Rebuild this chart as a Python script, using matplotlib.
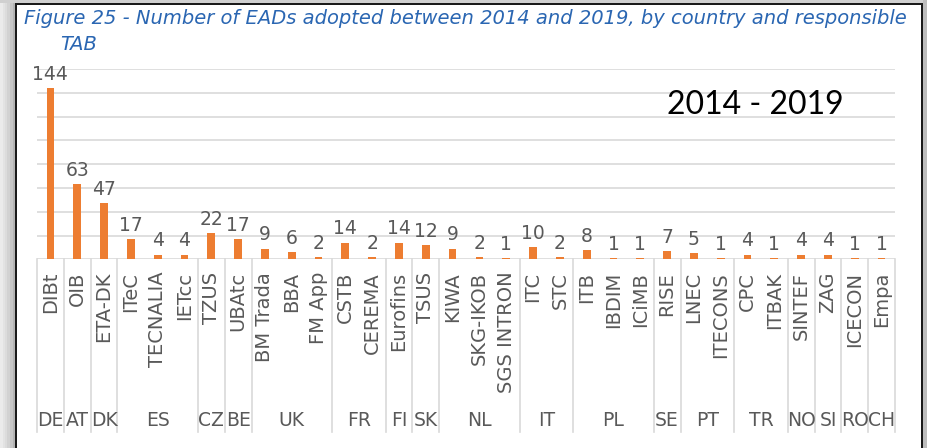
import matplotlib
matplotlib.use('Agg')
import matplotlib.pyplot as plt
from matplotlib.patches import Rectangle
from matplotlib.transforms import blended_transform_factory
import numpy as np

# data
tabs = ['DIBt', 'OIB', 'ETA-DK', 'ITeC', 'TECNALIA', 'IETcc', 'TZUS', 'UBAtc',
        'BM Trada', 'BBA', 'FM App', 'CSTB', 'CEREMA', 'Eurofins', 'TSUS', 'KIWA',
        'SKG-IKOB', 'SGS INTRON', 'ITC', 'STC', 'ITB', 'IBDIM', 'ICiMB', 'RISE',
        'LNEC', 'ITECONS', 'CPC', 'ITBAK', 'SINTEF', 'ZAG', 'ICECON', 'Empa']
eads = [144, 63, 47, 17, 4, 4, 22, 17, 9, 6, 2, 14, 2, 14, 12, 9,
        2, 1, 10, 2, 8, 1, 1, 7, 5, 1, 4, 1, 4, 4, 1, 1]
countries = ['DE', 'AT', 'DK', 'ES', 'CZ', 'BE', 'UK', 'FR', 'FI', 'SK',
             'NL', 'IT', 'PL', 'SE', 'PT', 'TR', 'NO', 'SI', 'RO', 'CH']
group_size = [1, 1, 1, 3, 1, 1, 3, 2, 1, 1, 3, 2, 3, 1, 2, 2, 1, 1, 1, 1]
y_ticks = [0, 20, 40, 60, 80, 100, 120, 140, 160]

W, H = 927, 448
ORANGE = '#ED7D31'
GREY_TXT = '#595959'
GRID = '#D9D9D9'
BLUE = '#2A66B2'

fig = plt.figure(figsize=(W / 100, H / 100), dpi=100)
fig.patch.set_facecolor('white')


def px(x0, y0, w, h):
    # pixel box (from top-left) -> figure fraction rectangle
    return (x0 / W, 1 - (y0 + h) / H, w / W, h / H)


def box(x0, y0, w, h, c):
    fx, fy, fw, fh = px(x0, y0, w, h)
    fig.add_artist(Rectangle((fx, fy), fw, fh, transform=fig.transFigure, color=c, lw=0))


# screenshot frame
for i, c in enumerate(['#EBEBEB', '#E3E3E3', '#DCDCDC', '#D2D2D2', '#C6C6C6', '#B4B4B4']):
    box(i * 2.5, 0, 2.6, H, c)
box(0, 0, W, 3.3, '#D0D0D0')
box(923, 0, 4, H, '#BDBDBD')
box(15, 3.3, 2, H, '#1A1A1A')
box(15, 3.3, 908, 1.3, '#1A1A1A')
box(921, 3.3, 2, H, '#1A1A1A')

# plot area
left, right, top, base = 37, 895, 69, 259.3
ax = fig.add_axes([left / W, 1 - base / H, (right - left) / W, (base - top) / H])
ax.set_facecolor('none')
x = np.arange(len(tabs))
ax.bar(x, eads, width=0.29, color=ORANGE, zorder=3)
ax.set_xlim(-0.5, len(tabs) - 0.5)
ax.set_ylim(0, 160)
for sp in ax.spines.values():
    sp.set_visible(False)
ax.set_yticks(y_ticks)
ax.yaxis.grid(True, color=GRID, lw=1.2, zorder=0)
ax.tick_params(axis='y', left=False, labelleft=False)
ax.set_xticks(x)
ax.set_xticklabels(tabs, rotation=90, fontsize=14, color=GREY_TXT, va='top', ha='center')
ax.tick_params(axis='x', length=0, pad=9)

for xi, v in zip(x, eads):
    ax.annotate(str(v), (xi, v), xytext=(0, 3), textcoords='offset points',
                ha='center', va='bottom', fontsize=13.5, color=GREY_TXT)

# country groups below the tab names
tr = blended_transform_factory(ax.transData, ax.transAxes)
edges = np.concatenate([[0], np.cumsum(group_size)]) - 0.5
for e in edges:
    ax.plot([e, e], [0, -0.905], transform=tr, color=GRID, lw=1.2, clip_on=False)
for name, a, b in zip(countries, edges[:-1], edges[1:]):
    ax.text((a + b) / 2, -0.845, name, transform=tr, ha='center', va='center',
            fontsize=13.5, color=GREY_TXT)

# title
fig.text(24 / W, 1 - 19 / H, 'Figure 25 - Number of EADs adopted between 2014 and 2019, '
         'by country and responsible', fontsize=14, style='italic', color=BLUE,
         ha='left', va='center')
fig.text(60 / W, 1 - 44 / H, 'TAB', fontsize=14, style='italic', color=BLUE,
         ha='left', va='center')

fig.text(755 / W, 1 - 105 / H, '2014 - 2019', fontsize=23, family='Lato',
         color='black', ha='center', va='center')

fig.savefig('out.png', dpi=100)
